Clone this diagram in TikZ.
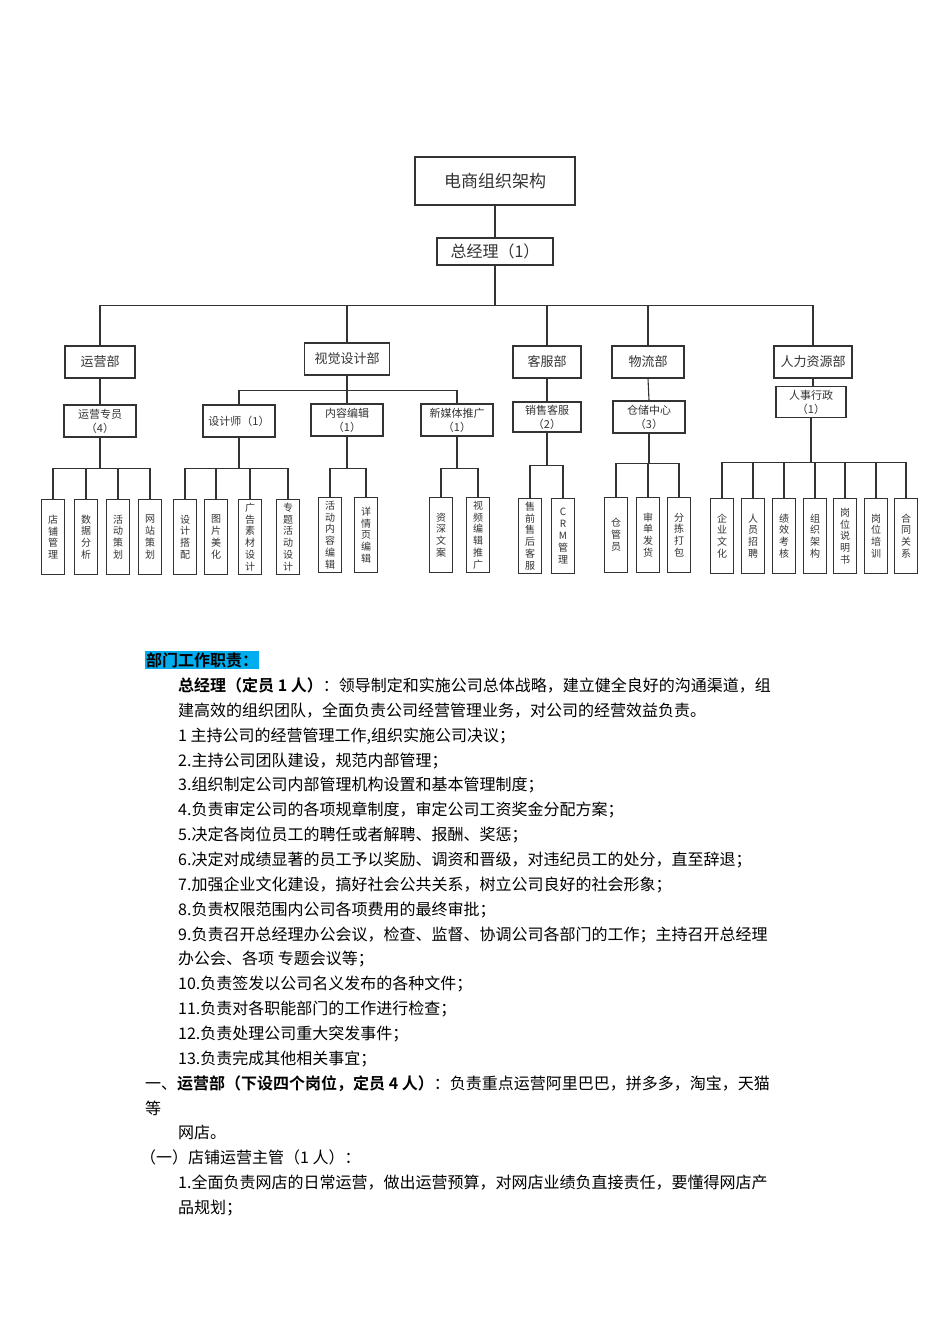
\documentclass[tikz,border=0pt]{standalone}
\usepackage{fontspec}
\setmainfont{Noto Sans CJK SC}[BoldFont={Noto Sans CJK SC Bold}]
\begin{document}
\begin{tikzpicture}[x=1pt,y=-1pt,
  bx/.style={draw=black!80,line width=1.1pt,inner sep=0pt,align=center,text=black!80},
  lf/.style={bx,minimum width=23pt,minimum height=75pt,font=\fontsize{10}{11.8}\selectfont},
  ln/.style={draw=black!80,line width=1.1pt},
  tx/.style={anchor=base west,inner sep=0pt,font=\fontsize{16}{18}\selectfont}]
\useasboundingbox[fill=white] (0,0) rectangle (950,1344);
% top
\node[bx,minimum width=160pt,minimum height=48pt,font=\fontsize{17}{20}\selectfont] (t) at (495,181) {电商组织架构};
\node[bx,minimum width=116pt,minimum height=27pt,font=\fontsize{16}{18}\selectfont] (gm) at (495,251.5) {总经理（1）};
\draw[ln] (t.south) -- (gm.north);
\begin{scope}[every node/.style={bx,minimum height=32pt,font=\fontsize{13}{15}\selectfont}]
\node[minimum width=70pt] (d1) at (100,362) {运营部};
\node[minimum width=85pt] (d2) at (347,359) {视觉设计部};
\node[minimum width=68pt] (d3) at (547,362) {客服部};
\node[minimum width=72pt] (d4) at (648,362) {物流部};
\node[minimum width=78pt] (d5) at (813,362) {人力资源部};
\end{scope}
\foreach \d in {d1,d2,d3,d4,d5} \draw[ln] (gm.south) -- ++(0,40) -| (\d.north);
\begin{scope}[every node/.style={bx,minimum height=32pt,minimum width=72pt,font=\fontsize{11}{14}\selectfont}]
\node (s1) at (100,421) {运营专员\\（4）};
\node (s21) at (239,421) {设计师（1）};
\node (s22) at (347,420) {内容编辑\\（1）};
\node (s23) at (457,420) {新媒体推广\\（1）};
\node[minimum width=68pt,minimum height=30pt] (s3) at (547,417) {销售客服\\（2）};
\node (s4) at (649,417) {仓储中心\\（3）};
\node[minimum width=70pt,minimum height=31pt] (s5) at (811,402) {人事行政\\（1）};
\end{scope}
\draw[ln] (d1.south) -- (s1.north);
\foreach \s in {s21,s22,s23} \draw[ln] (d2.south) -- ++(0,15) -| (\s.north);
\draw[ln] (d3.south) -- (s3.north);
\draw[ln] (d4.south) -- (s4.north);
\draw[ln] (d5.south) -- (d5.south |- s5.north);
% leaves
\node[lf] (a1) at (53,537) {店\\铺\\管\\理};
\node[lf] (a2) at (86,537) {数\\据\\分\\析};
\node[lf] (a3) at (118,537) {活\\动\\策\\划};
\node[lf] (a4) at (150,537) {网\\站\\策\\划};
\foreach \c in {a1,a2,a3,a4} \draw[ln] (s1.south) -- ++(0,31) -| (\c.north);
\node[lf] (b1) at (185,537) {设\\计\\搭\\配};
\node[lf] (b2) at (216,537) {图\\片\\美\\化};
\node[lf] (b3) at (250,537) {广\\告\\素\\材\\设\\计};
\node[lf] (b4) at (288,537) {专\\题\\活\\动\\设\\计};
\foreach \c in {b1,b2,b3,b4} \draw[ln] (s21.south) -- ++(0,31) -| (\c.north);
\node[lf] (c1) at (330,535) {活\\动\\内\\容\\编\\辑};
\node[lf] (c2) at (366,535) {详\\情\\页\\编\\辑};
\foreach \c in {c1,c2} \draw[ln] (s22.south) -- ++(0,32) -| (\c.north);
\node[lf] (e1) at (441,535) {资\\深\\文\\案};
\node[lf] (e2) at (478,535) {视\\频\\编\\辑\\推\\广};
\foreach \c in {e1,e2} \draw[ln] (s23.south) -- ++(0,32) -| (\c.north);
\node[lf] (f1) at (530,536) {售\\前\\售\\后\\客\\服};
\node[lf] (f2) at (563,536) {C\\R\\M\\管\\理};
\foreach \c in {f1,f2} \draw[ln] (s3.south) -- ++(0,33) -| (\c.north);
\node[lf] (g1) at (616,535) {仓\\管\\员};
\node[lf] (g2) at (648,535) {审\\单\\发\\货};
\node[lf] (g3) at (679,535) {分\\拣\\打\\包};
\foreach \c in {g1,g2,g3} \draw[ln] (s4.south) -- ++(0,30) -| (\c.north);
\node[lf] (h1) at (722,536) {企\\业\\文\\化};
\node[lf] (h2) at (753,536) {人\\员\\招\\聘};
\node[lf] (h3) at (784,536) {绩\\效\\考\\核};
\node[lf] (h4) at (815,536) {组\\织\\架\\构};
\node[lf] (h5) at (845,536) {岗\\位\\说\\明\\书};
\node[lf] (h6) at (876,536) {岗\\位\\培\\训};
\node[lf] (h7) at (906,536) {合\\同\\关\\系};
\foreach \c in {h1,h2,h3,h4,h5,h6,h7} \draw[ln] (s5.south) -- ++(0,44) -| (\c.north);
% text
\node[tx,fill=cyan,inner sep=1pt,font=\bfseries\fontsize{16}{18}\selectfont] (p0) at (145,666) {部门工作职责：};
\node[tx] (p1) at (178,691) {\textbf{总经理（定员 1 人）}：领导制定和实施公司总体战略，建立健全良好的沟通渠道，组};
\node[tx] (p2) at (178,716) {建高效的组织团队，全面负责公司经营管理业务，对公司的经营效益负责。};
\node[tx] (p3) at (178,741) {1 主持公司的经营管理工作,组织实施公司决议；};
\node[tx] (p4) at (178,766) {2.主持公司团队建设，规范内部管理；};
\node[tx] (p5) at (178,790) {3.组织制定公司内部管理机构设置和基本管理制度；};
\node[tx] (p6) at (178,815) {4.负责审定公司的各项规章制度，审定公司工资奖金分配方案；};
\node[tx] (p7) at (178,840) {5.决定各岗位员工的聘任或者解聘、报酬、奖惩；};
\node[tx] (p8) at (178,865) {6.决定对成绩显著的员工予以奖励、调资和晋级，对违纪员工的处分，直至辞退；};
\node[tx] (p9) at (178,890) {7.加强企业文化建设，搞好社会公共关系，树立公司良好的社会形象；};
\node[tx] (p10) at (178,915) {8.负责权限范围内公司各项费用的最终审批；};
\node[tx] (p11) at (178,940) {9.负责召开总经理办公会议，检查、监督、协调公司各部门的工作；主持召开总经理};
\node[tx] (p12) at (178,964) {办公会、各项 专题会议等；};
\node[tx] (p13) at (178,989) {10.负责签发以公司名义发布的各种文件；};
\node[tx] (p14) at (178,1014) {11.负责对各职能部门的工作进行检查；};
\node[tx] (p15) at (178,1039) {12.负责处理公司重大突发事件；};
\node[tx] (p16) at (178,1064) {13.负责完成其他相关事宜；};
\node[tx] (p17) at (145,1089) {一、\textbf{运营部（下设四个岗位，定员 4 人）}：负责重点运营阿里巴巴，拼多多，淘宝，天猫};
\node[tx] (p18) at (145,1114) {等};
\node[tx] (p19) at (178,1138) {网店。};
\node[tx] (p20) at (140,1163) {（一）店铺运营主管（1 人）：};
\node[tx] (p21) at (178,1188) {1.全面负责网店的日常运营，做出运营预算，对网店业绩负直接责任，要懂得网店产};
\node[tx] (p22) at (178,1213) {品规划；};
\end{tikzpicture}
\end{document}
